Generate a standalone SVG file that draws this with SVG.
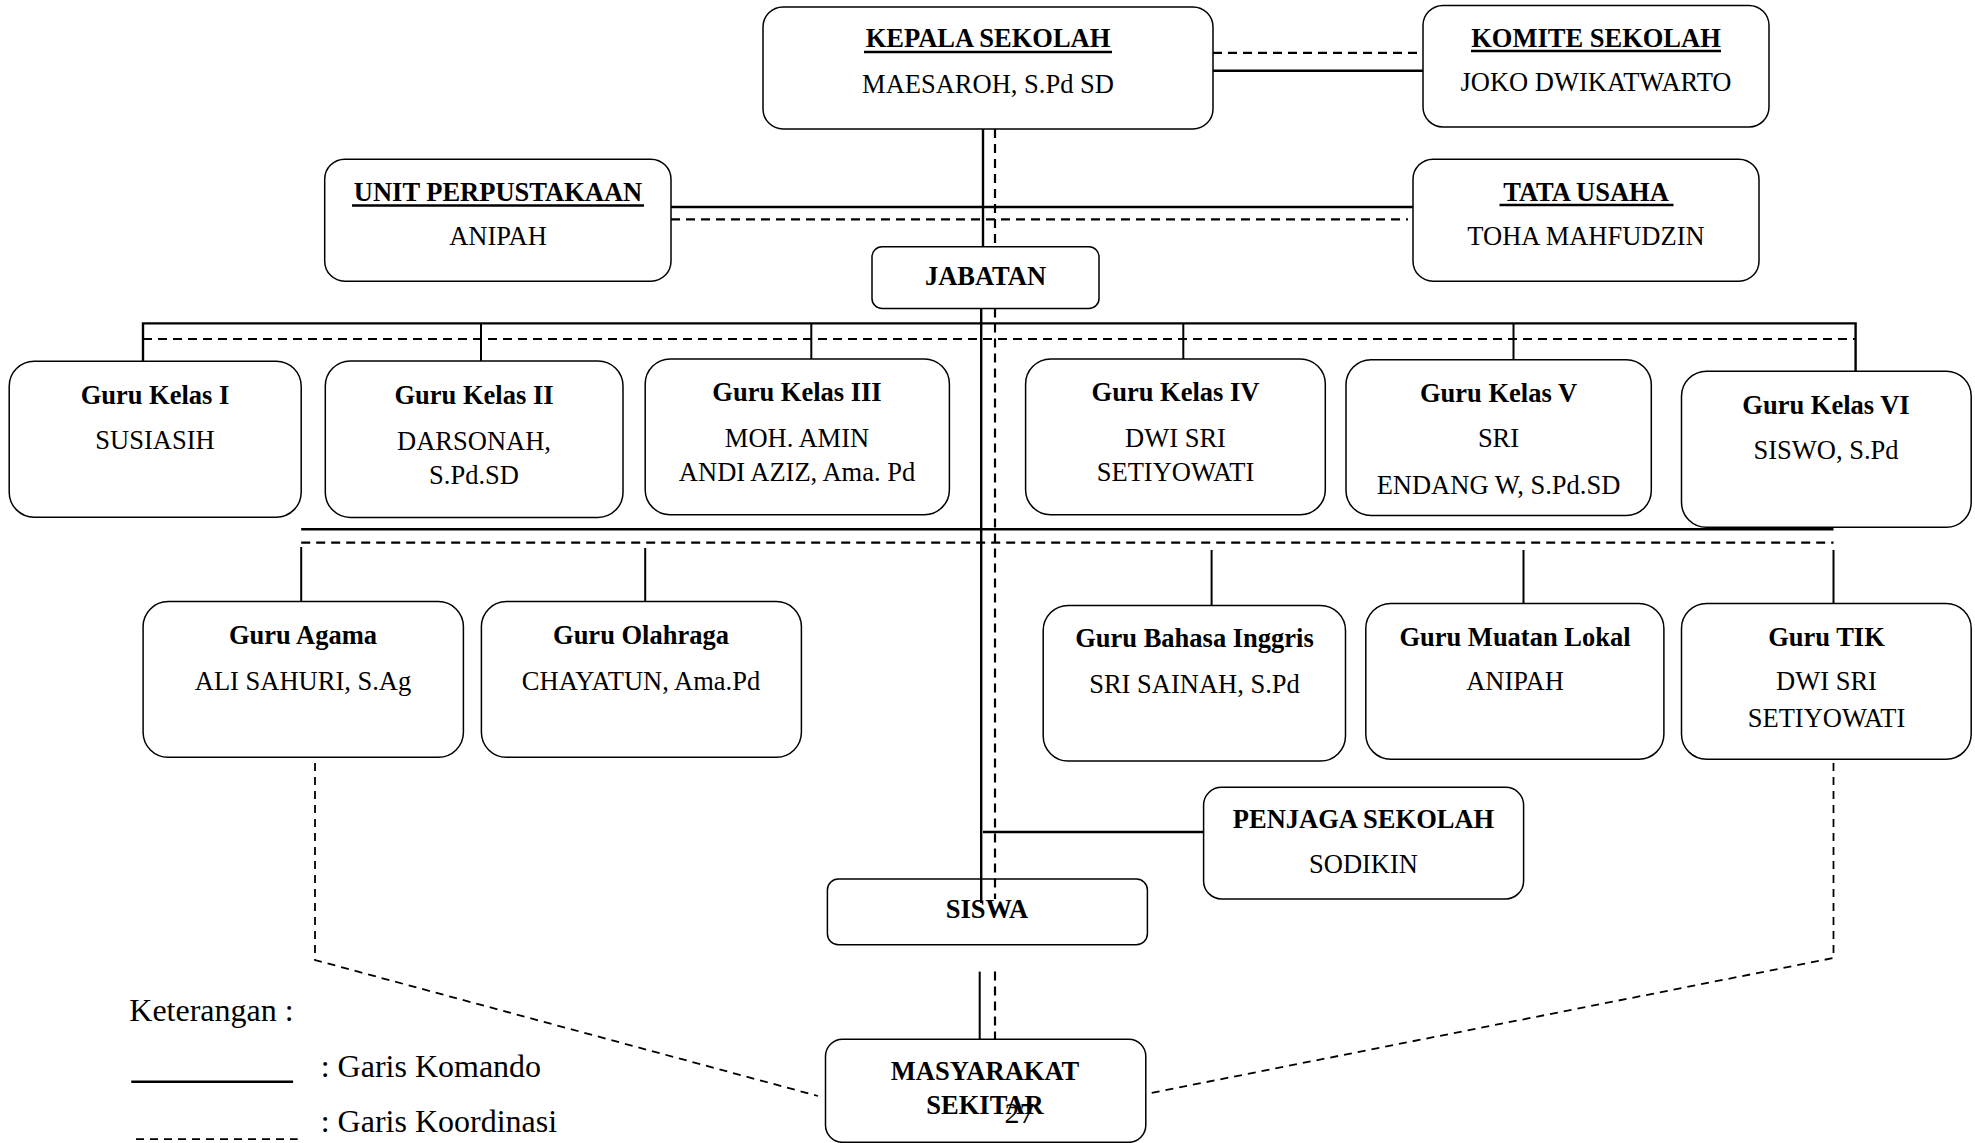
<svg xmlns="http://www.w3.org/2000/svg" width="1975" height="1143" viewBox="0 0 1975 1143">
<style>
.bg{fill:#fff}
.box{fill:#fff;stroke:#000;stroke-width:1.5}
.t{font-family:"Liberation Serif","Times New Roman",serif;font-size:26.5px;fill:#000;text-anchor:middle}
.b{font-weight:bold}
.leg{font-family:"Liberation Serif","Times New Roman",serif;font-size:32px;fill:#000}
.s{stroke:#000;stroke-width:2.4;fill:none}
.sd{stroke:#000;stroke-width:2;fill:none}
.d{stroke:#000;stroke-width:2.2;fill:none;stroke-dasharray:9 6}
.dd{stroke:#000;stroke-width:1.8;fill:none;stroke-dasharray:8 6}
.ul{stroke:#000;stroke-width:2.6}
</style>
<rect class="bg" x="0" y="0" width="1975" height="1143"/>
<g id="connectors">
  <!-- Kepala - Komite -->
  <line class="d" x1="1213" y1="52.8" x2="1423" y2="52.8"/>
  <line class="s" x1="1213" y1="70.8" x2="1423" y2="70.8"/>
  <!-- central verticals -->
  <line class="s" x1="983" y1="129" x2="983" y2="247"/>
  <line class="d" x1="995" y1="129" x2="995" y2="247"/>
  <line class="s" x1="981.2" y1="308.4" x2="981.2" y2="903"/>
  <line class="d" x1="995" y1="308.4" x2="995" y2="899"/>
  <!-- Unit - Tata Usaha -->
  <line class="s" x1="671" y1="207" x2="1413" y2="207"/>
  <line class="d" x1="671" y1="219.3" x2="1408" y2="219.3"/>
  <!-- top bus -->
  <polyline class="s" points="143,361 143,323.4 1855.6,323.4 1855.6,371.2"/>
  <line class="d" x1="143" y1="339" x2="1855.6" y2="339"/>
  <line class="sd" x1="481" y1="323.4" x2="481" y2="361"/>
  <line class="sd" x1="811.3" y1="323.4" x2="811.3" y2="359"/>
  <line class="sd" x1="1183.3" y1="323.4" x2="1183.3" y2="359"/>
  <line class="sd" x1="1513.5" y1="323.4" x2="1513.5" y2="359.7"/>
  <!-- lower bus -->
  <line class="s" x1="301.2" y1="529.2" x2="1833.5" y2="529.2"/>
  <line class="d" x1="301.2" y1="542.6" x2="1833.5" y2="542.6"/>
  <line class="sd" x1="301.2" y1="547" x2="301.2" y2="601.6"/>
  <line class="sd" x1="645.2" y1="548" x2="645.2" y2="601.6"/>
  <line class="sd" x1="1211.6" y1="550" x2="1211.6" y2="605.4"/>
  <line class="sd" x1="1523.5" y1="550" x2="1523.5" y2="603.5"/>
  <line class="sd" x1="1833.5" y1="550" x2="1833.5" y2="603.5"/>
  <!-- Penjaga -->
  <line class="s" x1="983" y1="832" x2="1203.6" y2="832"/>
  <!-- Siswa - Masyarakat -->
  <line class="sd" x1="979.7" y1="971.6" x2="979.7" y2="1039.3"/>
  <line class="d" x1="995" y1="971.6" x2="995" y2="1039.3"/>
  <!-- coordination to Masyarakat -->
  <polyline class="dd" points="315,763 315,960 818,1096"/>
  <polyline class="dd" points="1833.5,763 1833.5,958 1146,1094"/>
</g>
<g id="kepala">
  <rect class="box" x="763" y="6.9" width="450" height="122" rx="20"/>
  <text class="t b" x="988" y="47">KEPALA SEKOLAH</text>
  <line class="ul" x1="864" y1="52" x2="1112" y2="52"/>
  <text class="t" x="988" y="92.5">MAESAROH, S.Pd SD</text>
</g>
<g id="komite">
  <rect class="box" x="1423" y="5.4" width="346" height="121.6" rx="20"/>
  <text class="t b" x="1596" y="46.5">KOMITE SEKOLAH</text>
  <line class="ul" x1="1471" y1="51" x2="1721" y2="51"/>
  <text class="t" x="1596" y="91">JOKO DWIKATWARTO</text>
</g>
<g id="unit">
  <rect class="box" x="324.7" y="159.2" width="346.3" height="122" rx="20"/>
  <text class="t b" x="498" y="201">UNIT PERPUSTAKAAN</text>
  <line class="ul" x1="352" y1="205.5" x2="644" y2="205.5"/>
  <text class="t" x="498" y="245">ANIPAH</text>
</g>
<g id="tata">
  <rect class="box" x="1413" y="159.2" width="346" height="122" rx="20"/>
  <text class="t b" x="1586" y="200.5">TATA USAHA</text>
  <line class="ul" x1="1499.5" y1="205" x2="1673.5" y2="205"/>
  <text class="t" x="1586" y="245">TOHA MAHFUDZIN</text>
</g>
<g id="jabatan">
  <rect class="box" x="872" y="246.8" width="227" height="61.6" rx="10"/>
  <text class="t b" x="985.5" y="285">JABATAN</text>
</g>
<g id="kelas1">
  <rect class="box" x="9.2" y="361.2" width="292" height="156" rx="25"/>
  <text class="t b" x="155" y="403.7">Guru Kelas I</text>
  <text class="t" x="155" y="448.5">SUSIASIH</text>
</g>
<g id="kelas2">
  <rect class="box" x="325.3" y="361" width="297.7" height="156.4" rx="25"/>
  <text class="t b" x="474" y="403.7">Guru Kelas II</text>
  <text class="t" x="474" y="449.6">DARSONAH,</text>
  <text class="t" x="474" y="484">S.Pd.SD</text>
</g>
<g id="kelas3">
  <rect class="box" x="645.2" y="359" width="304.2" height="155.7" rx="25"/>
  <text class="t b" x="797" y="401">Guru Kelas III</text>
  <text class="t" x="797" y="447">MOH. AMIN</text>
  <text class="t" x="797" y="481.4">ANDI AZIZ, Ama. Pd</text>
</g>
<g id="kelas4">
  <rect class="box" x="1025.6" y="359" width="299.7" height="155.7" rx="25"/>
  <text class="t b" x="1175.5" y="401">Guru Kelas IV</text>
  <text class="t" x="1175.5" y="447">DWI SRI</text>
  <text class="t" x="1175.5" y="481.4">SETIYOWATI</text>
</g>
<g id="kelas5">
  <rect class="box" x="1346" y="359.7" width="305.3" height="155.8" rx="25"/>
  <text class="t b" x="1498.5" y="401.8">Guru Kelas V</text>
  <text class="t" x="1498.5" y="447">SRI</text>
  <text class="t" x="1498.5" y="493.7">ENDANG W, S.Pd.SD</text>
</g>
<g id="kelas6">
  <rect class="box" x="1681.5" y="371.2" width="289.7" height="156.1" rx="25"/>
  <text class="t b" x="1826" y="414.4">Guru Kelas VI</text>
  <text class="t" x="1826" y="458.5">SISWO, S.Pd</text>
</g>
<g id="agama">
  <rect class="box" x="143.1" y="601.6" width="320.3" height="155.7" rx="25"/>
  <text class="t b" x="303" y="644.4">Guru Agama</text>
  <text class="t" x="303" y="690.3">ALI SAHURI, S.Ag</text>
</g>
<g id="olahraga">
  <rect class="box" x="481.4" y="601.6" width="320" height="155.7" rx="25"/>
  <text class="t b" x="641" y="644.4">Guru Olahraga</text>
  <text class="t" x="641" y="690.3">CHAYATUN, Ama.Pd</text>
</g>
<g id="inggris">
  <rect class="box" x="1043.2" y="605.4" width="302.3" height="155.7" rx="25"/>
  <text class="t b" x="1194.5" y="647.1">Guru Bahasa Inggris</text>
  <text class="t" x="1194.5" y="693.4">SRI SAINAH, S.Pd</text>
</g>
<g id="mulok">
  <rect class="box" x="1365.8" y="603.5" width="298.1" height="155.7" rx="25"/>
  <text class="t b" x="1515" y="645.6">Guru Muatan Lokal</text>
  <text class="t" x="1515" y="690.3">ANIPAH</text>
</g>
<g id="tik">
  <rect class="box" x="1681.5" y="603.5" width="289.7" height="155.7" rx="25"/>
  <text class="t b" x="1826.5" y="645.6">Guru TIK</text>
  <text class="t" x="1826.5" y="690.3">DWI SRI</text>
  <text class="t" x="1826.5" y="726.7">SETIYOWATI</text>
</g>
<g id="penjaga">
  <rect class="box" x="1203.6" y="787.2" width="320" height="111.7" rx="18"/>
  <text class="t b" x="1363.5" y="828">PENJAGA SEKOLAH</text>
  <text class="t" x="1363.5" y="873">SODIKIN</text>
</g>
<g id="siswa">
  <rect class="box" style="fill:none" x="827.4" y="879" width="320" height="65.8" rx="11"/>
  <text class="t b" x="987" y="918">SISWA</text>
</g>
<g id="masyarakat">
  <rect class="box" x="825.5" y="1039.3" width="320.3" height="103" rx="17"/>
  <text class="t b" x="985" y="1079.5">MASYARAKAT</text>
  <text class="t b" x="985" y="1114.4">SEKITAR</text>
</g>
<g id="legend">
  <text class="leg" x="129.3" y="1021.4">Keterangan :</text>
  <line class="s" x1="131.3" y1="1081.8" x2="293.1" y2="1081.8"/>
  <text class="leg" x="320.7" y="1076.8">: Garis Komando</text>
  <line class="dd" x1="136" y1="1139.2" x2="297.7" y2="1139.2"/>
  <text class="leg" x="320.7" y="1131.6">: Garis Koordinasi</text>
</g>
<text class="t" style="font-size:30px" x="1019.5" y="1122.8">27</text>
</svg>
